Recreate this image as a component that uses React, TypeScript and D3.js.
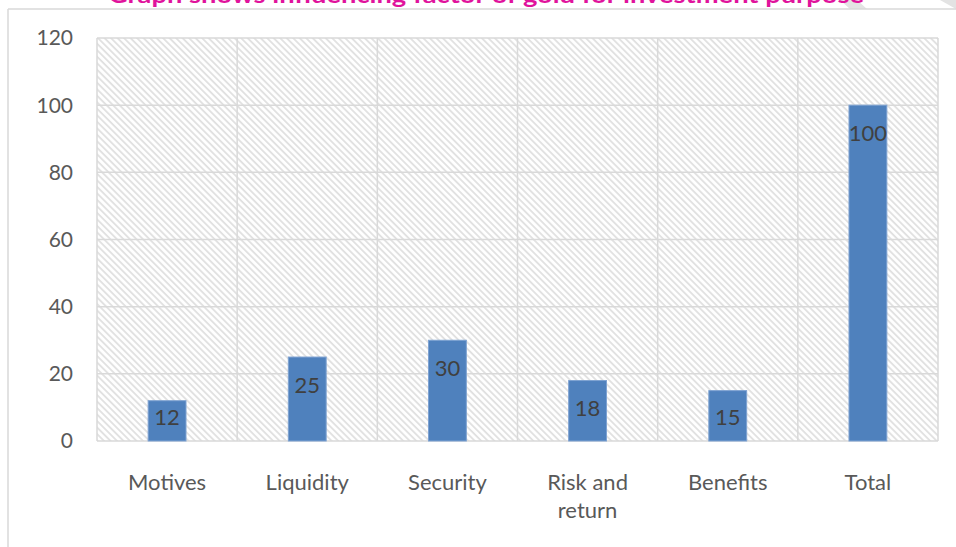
import React from "react";
import * as d3 from "d3";

const categories: string[][] = [["Motives"], ["Liquidity"], ["Security"], ["Risk and", "return"], ["Benefits"], ["Total"]];
const values: number[] = [12, 25, 30, 18, 15, 100];
const yTicks: number[] = [0, 20, 40, 60, 80, 100, 120];
const title = "Graph shows influencing factor of gold for investment purpose";

const W = 956;
const H = 547;
const left = 97;
const right = 938;
const top = 38;
const bottom = 441;
const FONT = "Lato, 'Open Sans', sans-serif";
const GRID = "#d9d9d9";

export default function App() {
  const keys = categories.map((c) => c.join(" "));
  const x = d3.scaleBand<string>().domain(keys).range([left, right]).paddingInner(0.73).paddingOuter(0.365);
  const xCat = d3.scaleBand<string>().domain(keys).range([left, right]).padding(0);
  const y = d3.scaleLinear().domain([0, 120]).range([bottom, top]);

  return (
    <svg width={W} height={H} style={{ position: "absolute", left: 0, top: 0, background: "#fff" }}>
      <defs>
        <pattern id="hatch" width={4.6} height={4.6} patternUnits="userSpaceOnUse" patternTransform="rotate(-45)">
          <rect width={4.6} height={4.6} fill="#ffffff" />
          <line x1={1} y1={0} x2={1} y2={4.6} stroke="#e0e0e0" strokeWidth={1.8} />
        </pattern>
      </defs>
      {/* page corner shadows */}
      <polygon points="840,0 857,0 867,9 850,9" fill="#e3e3e3" />
      <polygon points="940,0 956,0 956,9" fill="#e3e3e3" />
      {/* outer chart border */}
      <line x1={8} y1={9} x2={W} y2={9} stroke={GRID} strokeWidth={1.5} />
      <line x1={8} y1={9} x2={8} y2={H} stroke={GRID} strokeWidth={1.5} />
      {/* title (clipped at top) */}
      <text
        x={486}
        y={3}
        textAnchor="middle"
        fontFamily={FONT}
        fontWeight="bold"
        fontSize={22}
        fill="#e0139c"
        textLength={756}
        lengthAdjust="spacingAndGlyphs"
      >
        {title}
      </text>
      {/* plot area */}
      <rect x={left} y={top} width={right - left} height={bottom - top} fill="url(#hatch)" />
      {yTicks.map((t) => (
        <line key={"h" + t} x1={left} x2={right} y1={y(t)} y2={y(t)} stroke={GRID} strokeWidth={1.5} />
      ))}
      {keys.map((k) => (
        <line key={"v" + k} x1={xCat(k)!} x2={xCat(k)!} y1={top} y2={bottom} stroke={GRID} strokeWidth={1.5} />
      ))}
      <line x1={right} x2={right} y1={top} y2={bottom} stroke={GRID} strokeWidth={1.5} />
      {/* y tick labels */}
      {yTicks.map((t) => (
        <text key={"yt" + t} x={73} y={y(t)} dy="0.35em" textAnchor="end" fontFamily={FONT} fontSize={21} fill="#595959">
          {t}
        </text>
      ))}
      {/* bars */}
      {values.map((v, i) => (
        <rect
          key={"b" + i}
          x={x(keys[i])!}
          y={y(v)}
          width={x.bandwidth()}
          height={y(0) - y(v)}
          fill="#4f81bd"
          stroke="#7ea2d2"
          strokeWidth={1}
        />
      ))}
      {/* data labels */}
      {values.map((v, i) => (
        <text
          key={"l" + i}
          x={x(keys[i])! + x.bandwidth() / 2}
          y={Math.min(y(v) + 28, y(0) - 24)}
          dy="0.35em"
          textAnchor="middle"
          fontFamily={FONT}
          fontSize={22}
          fill="#404040"
        >
          {v}
        </text>
      ))}
      {/* x labels */}
      {categories.map((lines, i) => (
        <text key={"x" + i} textAnchor="middle" fontFamily={FONT} fontSize={22} fill="#595959">
          {lines.map((ln, j) => (
            <tspan key={j} x={xCat(keys[i])! + xCat.bandwidth() / 2} y={490 + j * 28}>
              {ln}
            </tspan>
          ))}
        </text>
      ))}
    </svg>
  );
}
